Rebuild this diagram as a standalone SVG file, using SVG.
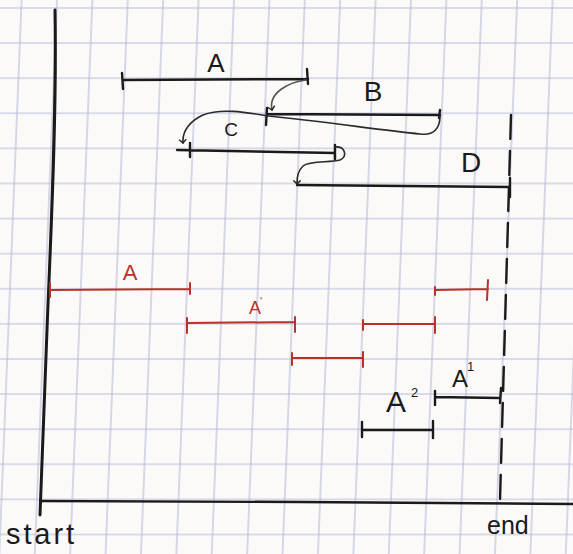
<svg xmlns="http://www.w3.org/2000/svg" width="573" height="554" viewBox="0 0 573 554">
<defs>
<pattern id="grid" patternUnits="userSpaceOnUse" width="35.4" height="35.1" x="20.6" y="7" patternTransform="skewX(-2.3)">
<path d="M1,0 V35.1 M0,1 H35.4" stroke="#8c8fc2" stroke-width="1.1" fill="none" opacity="0.6"/>
</pattern>
<marker id="hook" viewBox="0 0 10 10" refX="5" refY="5" markerWidth="9" markerHeight="9" orient="auto" markerUnits="userSpaceOnUse">
<path d="M1,1 L5,5 L1,9" fill="none" stroke="#222" stroke-width="1.6"/>
</marker>
<style>
.ink{stroke:#1a1a1a;stroke-width:2.4;fill:none;stroke-linecap:round;stroke-linejoin:round}
.red{stroke:#b8322a;stroke-width:2;fill:none;stroke-linecap:round}
.conn{stroke:#2a2a2a;stroke-width:1.6;fill:none;stroke-linecap:round}
.lbl{font-family:"Liberation Sans",Arial,sans-serif;fill:#1a1a1a}
.rlbl{font-family:"Liberation Sans",Arial,sans-serif;fill:#b8322a}
</style>
</defs>
<rect width="573" height="554" fill="#fbfaf8"/>
<rect width="573" height="554" fill="url(#grid)"/>

<g id="axes">
<path class="ink" style="stroke-width:3" d="M55,10 C57,120 50,250 47,330 L40,515"/>
<path class="ink" d="M40,501 L300,502 L573,504"/>
<path class="ink" d="M511,115 L500,500" stroke-dasharray="24 12"/>
<text class="lbl" x="6" y="544" font-size="29" textLength="68" lengthAdjust="spacing">start</text>
<text class="lbl" x="487" y="534" font-size="25">end</text>
</g>

<g id="seg-A">
<path class="ink" d="M123,80 L308,79 M122,73 L123,89 M307,69 L308,84"/>
<text class="lbl" x="216" y="72" font-size="26" text-anchor="middle">A</text>
</g>
<g id="seg-B">
<path class="ink" d="M267,114 L440,115 M267,108 L266,125 M440,110 L439,118"/>
<text class="lbl" x="373" y="101" font-size="28" text-anchor="middle">B</text>
</g>
<g id="seg-C">
<path class="ink" d="M177,150 L335,153 M190,143 L190,157 M335,145 L335,159"/>
<text class="lbl" x="231" y="136" font-size="19" text-anchor="middle">C</text>
</g>
<g id="seg-D">
<path class="ink" d="M297,185 L510,187 M510,178 L510,197"/>
<text class="lbl" x="471" y="172" font-size="28" text-anchor="middle">D</text>
</g>

<g id="connectors">
<path class="conn" style="stroke:#555" marker-end="url(#hook)" d="M306,80 C290,82 268,92 272,110"/>
<path class="conn" marker-end="url(#hook)" d="M440,116 C440,128 434,136 420,134 C380,130 320,121 268,116 C245,112 220,108 203,115 C190,121 182,131 183,143"/>
<path class="conn" marker-end="url(#hook)" d="M335,147 C345,146 348,156 340,160 C330,163 310,160 303,166 C298,171 297,176 297,184"/>
</g>

<g id="red-A">
<path class="red" d="M50,290 L190,289 M50,283 L50,297 M190,283 L190,294 M435,290 L488,289 M435,287 L435,295 M488,280 L487,300"/>
<text class="rlbl" x="130" y="280" font-size="22" text-anchor="middle">A</text>
</g>
<g id="red-A-prime">
<path class="red" d="M187,323 L295,322 M187,318 L187,333 M295,317 L295,332 M363,324 L435,324 M363,320 L363,330 M435,317 L435,333"/>
<text class="rlbl" x="249" y="314" font-size="18">A<tspan dx="-1" dy="-9" font-size="11">'</tspan></text>
</g>
<g id="red-A-third">
<path class="red" d="M292,358 L363,358 M292,353 L292,365 M363,352 L363,367"/>
</g>

<g id="seg-A1">
<path class="ink" d="M435,397 L500,398 M435,391 L435,405 M501,388 L500,403"/>
<text class="lbl" x="452" y="387" font-size="24">A</text>
<text class="lbl" x="467" y="371" font-size="13">1</text>
</g>
<g id="seg-A2">
<path class="ink" d="M362,430 L433,430 M362,422 L362,437 M433,421 L433,438"/>
<text class="lbl" x="386" y="412" font-size="30">A</text>
<text class="lbl" x="411" y="397" font-size="13">2</text>
</g>
</svg>
